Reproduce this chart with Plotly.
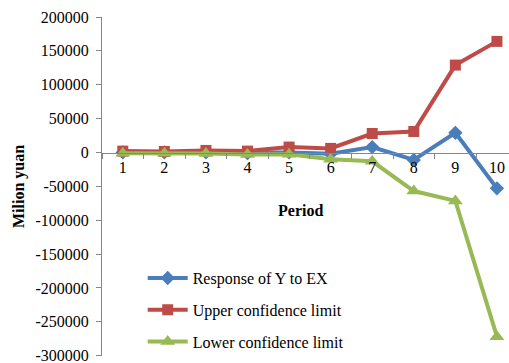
import plotly.graph_objects as go

periods = ["1", "2", "3", "4", "5", "6", "7", "8", "9", "10"]
response = [0, 0, 0, -1000, 0, -2000, 8000, -11000, 29000, -53000]
upper = [2000, 1500, 3000, 2000, 8000, 6000, 28000, 31000, 129000, 164000]
lower = [-1000, -1000, -1500, -3000, -2500, -10000, -13000, -57000, -71500, -272000]

ytick_vals = [200000, 150000, 100000, 50000, 0, -50000, -100000, -150000, -200000, -250000, -300000]
ytick_text = ["200000", "150000", "100000", "50000", "0", "-50000", "-100000", "-150000",
              "-200000", "-250000", "-300000"]

font = "Liberation Serif"

fig = go.Figure()
fig.add_trace(go.Scatter(x=periods, y=response, name="Response of Y to EX", mode="lines+markers",
                         line=dict(color="#4A7EBB", width=4),
                         marker=dict(symbol="diamond", size=11, color="#4A7EBB"),
                         legendgroup="a"))
fig.add_trace(go.Scatter(x=periods, y=upper, name="Upper confidence limit", mode="lines+markers",
                         line=dict(color="#BE4B48", width=4),
                         marker=dict(symbol="square", size=11, color="#BE4B48"),
                         legendgroup="b"))
fig.add_trace(go.Scatter(x=periods, y=lower, name="Lower confidence limit", mode="lines+markers",
                         line=dict(color="#98B954", width=4),
                         marker=dict(symbol="triangle-up", size=13, color="#98B954"),
                         legendgroup="c"))

fig.update_layout(
    width=509, height=363,
    margin=dict(l=102, r=0, t=17, b=7, autoexpand=False),
    paper_bgcolor="white", plot_bgcolor="white",
    font=dict(family=font, size=16, color="black"),
    showlegend=True,
    legend=dict(x=0.10, y=0.28, xanchor="left", yanchor="top", bgcolor="rgba(0,0,0,0)",
                font=dict(size=16), tracegroupgap=8, itemwidth=40),
    xaxis=dict(type="category", range=[-0.5, 9.29], anchor="free", position=0.6,
               showline=True, linecolor="#868686", linewidth=1,
               ticks="outside", ticklen=5, tickcolor="#868686", tickson="boundaries",
               showgrid=False, zeroline=False, tickfont=dict(size=16), automargin=False),
    yaxis=dict(range=[-300500, 200000], tickvals=ytick_vals, ticktext=ytick_text,
               showline=True, linecolor="#868686", linewidth=1,
               ticks="outside", ticklen=5, tickcolor="#868686",
               showgrid=False, zeroline=False, tickfont=dict(size=16), automargin=False,
               ticklabelstandoff=4, ticklabeloverflow="allow",
               title=dict(text="<b>Milion yuan</b>", font=dict(size=16), standoff=6)),
    annotations=[dict(text="<b>Period</b>", x=0.487, y=0.43, xref="paper", yref="paper",
                      showarrow=False, font=dict(size=16))],
)

fig.write_html("out.html")
